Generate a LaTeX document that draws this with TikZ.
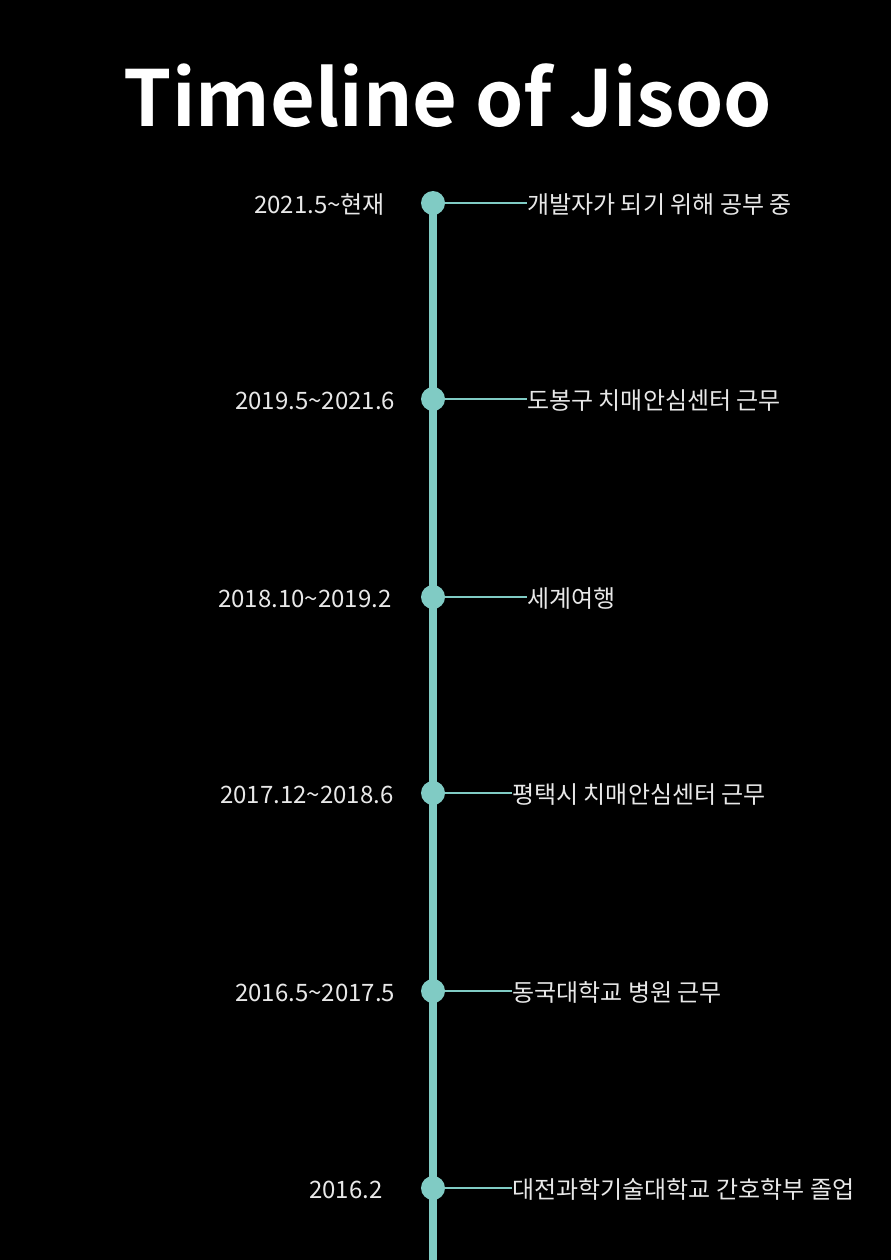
\documentclass[tikz,border=0pt]{standalone}
\usepackage{fontspec}
\setmainfont{Noto Sans CJK KR}
\newfontfamily\titlefont{Noto Sans CJK KR Bold}
\newfontfamily\bodyfont{Noto Sans CJK KR}
\definecolor{bg}{HTML}{000000}
\definecolor{teal}{HTML}{80CBC4}
\definecolor{txt}{HTML}{E8E8E8}
\begin{document}
\begin{tikzpicture}[x=0.75pt,y=-0.75pt,
  title/.style={text=white,font=\titlefont\fontsize{58}{64}\selectfont,inner sep=0pt,anchor=base},
  datelbl/.style={text=txt,font=\bodyfont\fontsize{18}{20}\selectfont,inner sep=0pt,anchor=base west},
  eventlbl/.style={text=txt,font=\bodyfont\fontsize{18}{20}\selectfont,inner sep=0pt,anchor=base west},
  dot/.style={circle,fill=teal,draw=none,minimum size=18pt,inner sep=0pt},
  spine/.style={draw=teal,line width=5.5pt},
  tick/.style={draw=teal,line width=1.5pt}]
\fill[bg] (0,0) rectangle (891,1260);
\useasboundingbox (0,0) rectangle (891,1260);
\node[title] (title) at (448,126) {Timeline of Jisoo};
\coordinate (top) at (433,203);
\coordinate (bottom) at (433,1260);
\draw[spine] (top) -- (bottom);
% events
\foreach \i/\y/\dx/\ex/\d/\e in {
  1/203/254/527/{2021.5\textasciitilde 현재}/{개발자가 되기 위해 공부 중},
  2/399/235/527/{2019.5\textasciitilde 2021.6}/{도봉구 치매안심센터 근무},
  3/597/218/527/{2018.10\textasciitilde 2019.2}/{세계여행},
  4/793/220/512/{2017.12\textasciitilde 2018.6}/{평택시 치매안심센터 근무},
  5/991/235/512/{2016.5\textasciitilde 2017.5}/{동국대학교 병원 근무},
  6/1188/309/512/{2016.2}/{대전과학기술대학교 간호학부 졸업}}{
  \node[dot] (d\i) at (433,\y) {};
  \node[datelbl] (t\i) at (\dx,\y+10) {\d};
  \node[eventlbl] (e\i) at (\ex,\y+10) {\e};
  \draw[tick] (d\i.east) -- (e\i.base west |- d\i.east);
}
\end{tikzpicture}
\end{document}
